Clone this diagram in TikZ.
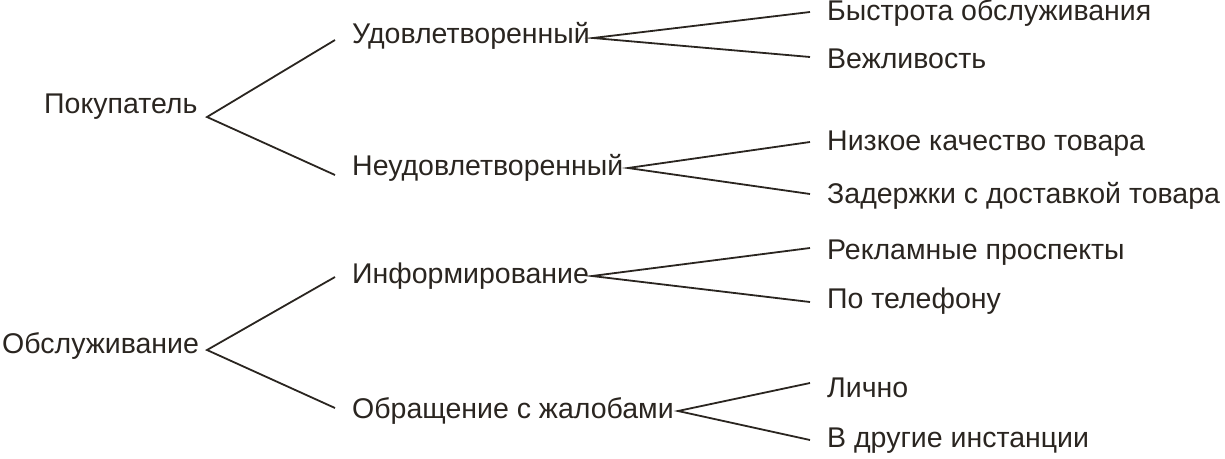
\documentclass[tikz,border=0pt]{standalone}
\usepackage{fontspec}
\usetikzlibrary{calc}
\setmainfont{Liberation Sans}
\definecolor{ink}{HTML}{2A2520}
\begin{document}
\begin{tikzpicture}[x=1pt,y=-1pt,
  lbl/.style={anchor=west,inner sep=0pt,text=ink,font=\fontsize{28.5}{32}\selectfont},
  ln/.style={draw=ink,line width=1.8pt}]
\useasboundingbox (0,0) rectangle (1225,458);
\node[lbl] (p) at (44,107) {Покупатель};
\node[lbl] (u) at (352,36) {Удовлетворенный};
\node[lbl] (n) at (352,168) {Неудовлетворенный};
\node[lbl] (b) at (827,13) {Быстрота обслуживания};
\node[lbl] (v) at (827,59) {Вежливость};
\node[lbl] (k) at (827,144) {Низкое качество товара};
\node[lbl] (z) at (827,196) {Задержки с доставкой товара};
\node[lbl] (o) at (2,346) {Обслуживание};
\node[lbl] (i) at (352,276) {Информирование};
\node[lbl] (zh) at (352,411) {Обращение с жалобами};
\node[lbl] (r) at (827,253) {Рекламные проспекты};
\node[lbl] (t) at (827,301) {По телефону};
\node[lbl] (l) at (827,388) {Лично};
\node[lbl] (d) at (827,441) {В другие инстанции};
\coordinate (pa) at (207,117);
\coordinate (ua) at (593,38);
\coordinate (na) at (628,168);
\coordinate (oa) at (207,350);
\coordinate (ia) at (592,276);
\coordinate (za) at (678,411);
\draw[ln] ($(u.west)+(-17,4)$) -- (pa) -- ($(n.west)+(-17,7)$);
\draw[ln] ($(b.west)+(-17,-1)$) -- (ua) -- ($(v.west)+(-17,-2)$);
\draw[ln] ($(k.west)+(-17,-2)$) -- (na) -- ($(z.west)+(-17,-2)$);
\draw[ln] ($(i.west)+(-17,1)$) -- (oa) -- ($(zh.west)+(-17,-3)$);
\draw[ln] ($(r.west)+(-17,-5)$) -- (ia) -- ($(t.west)+(-17,1)$);
\draw[ln] ($(l.west)+(-17,-5)$) -- (za) -- ($(d.west)+(-17,-1)$);
\end{tikzpicture}
\end{document}
